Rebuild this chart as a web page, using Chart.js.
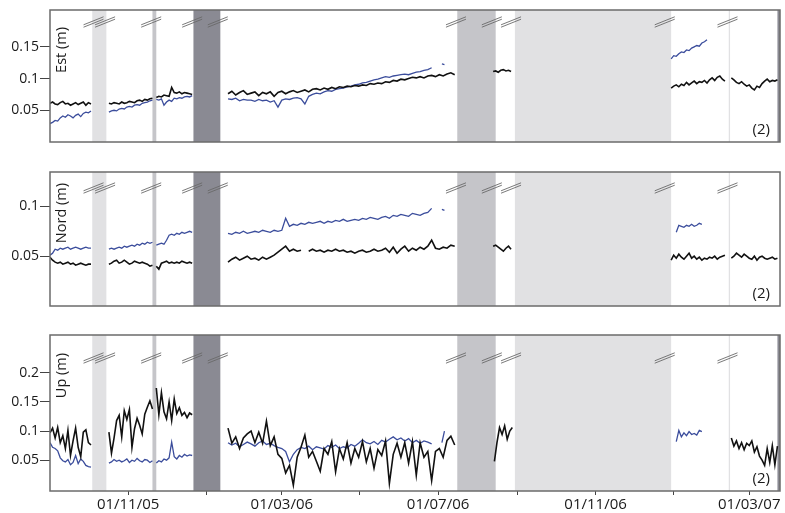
<!DOCTYPE html>
<html lang="en">
<head>
<meta charset="UTF-8" />
<title>Est / Nord / Up time series</title>
<script src="https://cdn.jsdelivr.net/npm/chart.js"></script>
<style>
  html, body { margin: 0; padding: 0; background: #fff; }
  #wrap { position: relative; width: 785px; height: 513px; }
  .panel { position: absolute; left: 0; top: 0; width: 785px; height: 513px; }
</style>
</head>
<body>
<div id="wrap">
  <div class="panel"><canvas id="estChart"></canvas></div>
  <div class="panel"><canvas id="nordChart"></canvas></div>
  <div class="panel"><canvas id="upChart"></canvas></div>
</div>
<script>
// each segment: [first date, days between samples, values]
const estBlack = [
  ['2005-09-01', 2, [0.061,0.063,0.060,0.059,0.062,0.064,0.060,0.061,0.058,0.060,0.062,0.059,0.061,0.063,0.058,0.062,0.060]],
  ['2005-10-17', 2, [0.061,0.060,0.062,0.061,0.060,0.063,0.061,0.062,0.064,0.063,0.062,0.065,0.066,0.064,0.067,0.066,0.068,0.069]],
  ['2005-11-23', 2, [0.070,0.072,0.071,0.074,0.073,0.072,0.086,0.078,0.077,0.079,0.076,0.078,0.077,0.076,0.075]],
  ['2006-01-18', 3, [0.076,0.080,0.074,0.078,0.081,0.075,0.077,0.079,0.073,0.078,
                     0.076,0.079,0.072,0.078,0.080,0.076,0.079,0.081,0.078,0.080,
                     0.082,0.079,0.083,0.084,0.082,0.085,0.083,0.086,0.084,0.087,
                     0.086,0.088,0.087,0.089,0.088,0.090,0.089,0.092,0.091,0.093,
                     0.092,0.095,0.094,0.097,0.096,0.099,0.098,0.100,0.102,0.101,
                     0.103,0.101,0.104,0.105,0.103,0.106,0.104,0.107,0.109,0.106]],
  ['2006-08-13', 2, [0.111,0.112,0.110,0.113,0.114,0.112,0.113,0.111]],
  ['2006-12-30', 2, [0.085,0.088,0.090,0.087,0.091,0.089,0.094,0.090,0.093,0.096,0.092,0.095,0.094,0.097,0.093,0.098,0.101,0.097,0.102,0.104,0.099,0.096]],
  ['2007-02-15', 2, [0.101,0.098,0.094,0.092,0.095,0.091,0.088,0.090,0.085,0.082,0.088,0.086,0.092,0.096,0.099,0.095,0.097,0.096,0.098]]
];
const estBlue = [
  ['2005-09-01', 2, [0.029,0.031,0.034,0.033,0.038,0.041,0.039,0.043,0.041,0.038,0.042,0.044,0.040,0.045,0.047,0.046,0.049]],
  ['2005-10-17', 2, [0.047,0.049,0.050,0.049,0.052,0.053,0.052,0.055,0.056,0.055,0.058,0.059,0.058,0.061,0.062,0.063,0.065,0.066]],
  ['2005-11-23', 2, [0.067,0.066,0.068,0.058,0.063,0.066,0.064,0.069,0.068,0.070,0.069,0.071,0.072,0.071,0.073]],
  ['2006-01-18', 3, [0.068,0.067,0.069,0.065,0.067,0.066,0.066,0.064,0.067,0.065,
                     0.066,0.063,0.065,0.055,0.066,0.068,0.067,0.069,0.070,0.068,
                     0.060,0.072,0.075,0.077,0.076,0.079,0.081,0.080,0.083,0.084,
                     0.085,0.087,0.088,0.090,0.091,0.093,0.094,0.096,0.098,0.099,
                     0.101,0.103,0.102,0.104,0.105,0.106,0.107,0.106,0.108,0.110,
                     0.111,0.113,0.114,0.117]],
  ['2006-07-04', 2, [0.123,0.122]],
  ['2006-12-30', 2, [0.131,0.136,0.135,0.139,0.142,0.141,0.145,0.144,0.148,0.150,0.152,0.151,0.156,0.158,0.161]]
];

const nordBlack = [
  ['2005-09-01', 2, [0.049,0.046,0.044,0.043,0.044,0.042,0.043,0.044,0.042,0.043,0.041,0.042,0.043,0.042,0.041,0.042,0.042]],
  ['2005-10-17', 2, [0.042,0.043,0.045,0.046,0.043,0.044,0.046,0.044,0.042,0.043,0.045,0.044,0.043,0.044,0.043,0.042,0.040,0.041]],
  ['2005-11-23', 2, [0.040,0.037,0.043,0.044,0.045,0.043,0.044,0.043,0.044,0.043,0.045,0.044,0.043,0.044,0.043]],
  ['2006-01-18', 3, [0.044,0.047,0.049,0.046,0.048,0.050,0.047,0.048,0.046,0.049,
                     0.047,0.049,0.051,0.054,0.057,0.060,0.055,0.057,0.055,0.056,
                     null, 0.055,0.057,0.055,0.056,0.054,0.056,0.055,0.057,0.055,
                     0.056,0.054,0.055,0.053,0.055,0.056,0.054,0.055,0.057,0.055,
                     0.056,0.058,0.054,0.059,0.053,0.057,0.060,0.055,0.058,0.056,
                     0.059,0.057,0.060,0.066,0.058,0.057,0.059,0.058,0.061,0.060]],
  ['2006-08-13', 2, [0.060,0.061,0.059,0.057,0.055,0.058,0.060,0.057]],
  ['2006-12-30', 2, [0.046,0.051,0.048,0.052,0.049,0.047,0.050,0.053,0.048,0.050,0.047,0.049,0.046,0.048,0.047,0.049,0.048,0.050,0.047,0.049,0.050,0.051]],
  ['2007-02-15', 2, [0.048,0.050,0.053,0.051,0.049,0.052,0.050,0.048,0.047,0.050,0.046,0.049,0.050,0.048,0.047,0.048,0.049,0.047,0.048]]
];
const nordBlue = [
  ['2005-09-01', 2, [0.051,0.053,0.057,0.056,0.058,0.057,0.058,0.059,0.057,0.058,0.059,0.058,0.057,0.058,0.059,0.058,0.058]],
  ['2005-10-17', 2, [0.057,0.058,0.057,0.058,0.059,0.058,0.060,0.059,0.060,0.061,0.060,0.062,0.061,0.063,0.062,0.064,0.063,0.064]],
  ['2005-11-23', 2, [0.061,0.062,0.063,0.062,0.066,0.071,0.072,0.071,0.073,0.072,0.074,0.073,0.074,0.075,0.074]],
  ['2006-01-18', 3, [0.073,0.072,0.074,0.073,0.075,0.073,0.074,0.075,0.074,0.076,
                     0.075,0.074,0.076,0.075,0.076,0.088,0.080,0.082,0.081,0.083,
                     0.082,0.084,0.083,0.084,0.085,0.083,0.085,0.084,0.086,0.085,
                     0.087,0.085,0.086,0.087,0.086,0.088,0.087,0.089,0.088,0.087,
                     0.089,0.090,0.088,0.091,0.090,0.092,0.091,0.090,0.093,0.092,
                     0.091,0.093,0.094,0.098]],
  ['2006-07-04', 2, [0.097,0.096]],
  ['2007-01-03', 2, [0.074,0.081,0.080,0.079,0.081,0.080,0.082,0.080,0.081,0.083,0.082]]
];

const upBlack = [
  ['2005-09-01', 2, [0.097,0.105,0.088,0.106,0.080,0.092,0.070,0.101,0.058,0.083,0.105,0.072,0.056,0.098,0.102,0.080,0.076]],
  ['2005-10-17', 2, [0.098,0.062,0.088,0.118,0.127,0.090,0.135,0.120,0.137,0.072,0.104,0.122,0.110,0.095,0.129,0.141,0.152,0.138]],
  ['2005-11-23', 2, [0.174,0.128,0.166,0.133,0.121,0.150,0.118,0.155,0.130,0.140,0.127,0.132,0.123,0.131,0.128]],
  ['2006-01-18', 3, [0.105,0.079,0.090,0.070,0.088,0.095,0.100,0.080,0.098,0.079,
                     0.117,0.075,0.090,0.060,0.053,0.028,0.041,0.007,0.055,0.072,
                     0.093,0.055,0.065,0.048,0.031,0.070,0.060,0.082,0.030,0.070,
                     0.052,0.080,0.045,0.070,0.055,0.082,0.047,0.070,0.036,0.068,
                     0.058,0.083,0.010,0.060,0.079,0.055,0.080,0.045,0.082,0.024,
                     0.080,0.055,0.065,0.015,0.065,0.070,0.055,0.084,0.091,0.076]],
  ['2006-08-14', 2, [0.048,0.080,0.106,0.094,0.109,0.086,0.100,0.106]],
  ['2007-02-15', 2, [0.088,0.074,0.083,0.070,0.080,0.068,0.079,0.075,0.083,0.064,0.073,0.057,0.050,0.041,0.070,0.046,0.075,0.042,0.074]]
];
const upBlue = [
  ['2005-09-01', 2, [0.080,0.072,0.070,0.066,0.054,0.049,0.047,0.051,0.042,0.046,0.058,0.044,0.052,0.048,0.041,0.039,0.038]],
  ['2005-10-17', 2, [0.045,0.047,0.051,0.048,0.050,0.047,0.049,0.052,0.046,0.050,0.048,0.053,0.049,0.047,0.051,0.050,0.046,0.049]],
  ['2005-11-23', 2, [0.045,0.049,0.047,0.052,0.050,0.054,0.081,0.056,0.052,0.058,0.055,0.060,0.057,0.059,0.058]],
  ['2006-01-18', 3, [0.080,0.076,0.079,0.073,0.077,0.081,0.078,0.074,0.080,0.083,
                     0.077,0.079,0.075,0.072,0.070,0.065,0.047,0.060,0.068,0.072,
                     0.070,0.074,0.068,0.073,0.071,0.069,0.075,0.072,0.076,0.070,
                     0.073,0.071,0.077,0.074,0.079,0.085,0.080,0.078,0.082,0.077,
                     0.084,0.081,0.086,0.090,0.085,0.088,0.083,0.087,0.080,0.084,
                     0.079,0.083,0.081,0.078]],
  ['2006-07-04', 2, [0.080,0.100]],
  ['2007-01-03', 2, [0.082,0.101,0.090,0.097,0.092,0.099,0.094,0.096,0.093,0.101,0.099]]
];

const estTicks = [0.05, 0.1, 0.15];
const nordTicks = [0.05, 0.1];
const upTicks = [0.05, 0.1, 0.15, 0.2];

const xTickDates = ['2005-11-01','2006-01-01','2006-03-01','2006-05-01','2006-07-01','2006-09-01','2006-11-01','2007-01-01','2007-03-01'];
const xTickLabels = ['01/11/05','','01/03/06','','01/07/06','','01/11/06','','01/03/07'];

// shaded periods [from, to, shade]
const bands = [
  ['2005-10-04', '2005-10-15', 'light'],
  ['2005-11-20', '2005-11-23', 'mid'],
  ['2005-12-22', '2006-01-12', 'dark'],
  ['2006-07-16', '2006-08-15', 'mid'],
  ['2006-08-30', '2006-12-30', 'light'],
  ['2007-02-13', '2007-02-14', 'light']
];
const edgeBand = ['2007-03-23', '2007-03-26', 'dark'];

// "//" break marks
const breakDates = ['2005-10-05','2005-10-14','2005-11-19','2005-12-21','2006-01-10','2006-07-15','2006-08-12','2006-08-27','2006-12-25','2007-02-12'];

const BAND_COLORS = { light: '#e1e1e3', mid: '#c5c5c9', dark: '#8a8a93' };
const FONT = '"Open Sans", "Noto Sans", sans-serif';

const day = s => Date.UTC(+s.slice(0, 4), +s.slice(5, 7) - 1, +s.slice(8, 10)) / 86400000;

function toPoints(segs) {
  const pts = [];
  segs.forEach(([start, step, vals]) => {
    const d0 = day(start);
    vals.forEach((v, i) => pts.push({ x: d0 + i * step, y: v }));
    pts.push({ x: d0 + vals.length * step, y: null });
  });
  return pts;
}

function decor(cfg) {
  return {
    id: 'decor',
    beforeDatasetsDraw(chart) {
      const { ctx, chartArea: a, scales: { x } } = chart;
      ctx.save();
      ctx.beginPath();
      ctx.rect(a.left, a.top, a.width, a.height);
      ctx.clip();
      const list = cfg.edge ? bands.concat([edgeBand]) : bands;
      list.forEach(([s, e, kind]) => {
        const x0 = x.getPixelForValue(day(s));
        const x1 = x.getPixelForValue(day(e));
        ctx.fillStyle = BAND_COLORS[kind];
        ctx.fillRect(x0, a.top, x1 - x0, a.height);
      });
      ctx.restore();
    },
    afterDraw(chart) {
      const { ctx, chartArea: a, scales: { x } } = chart;
      ctx.save();
      ctx.strokeStyle = '#6a6a6a';
      ctx.lineWidth = 0.9;
      breakDates.forEach(d => {
        const cx = x.getPixelForValue(day(d));
        const cy = a.top + cfg.markTop;
        [-1.2, 1.2].forEach(dy => {
          ctx.beginPath();
          ctx.moveTo(cx - 10, cy + 4 + dy);
          ctx.lineTo(cx + 10, cy - 4 + dy);
          ctx.stroke();
        });
      });

      ctx.fillStyle = '#1a1a1a';
      ctx.font = '14.5px ' + FONT;
      ctx.save();
      ctx.translate(a.left + 12, a.top + cfg.labelTop);
      ctx.rotate(-Math.PI / 2);
      ctx.textAlign = 'right';
      ctx.textBaseline = 'middle';
      ctx.fillText(cfg.label, 0, 0);
      ctx.restore();

      ctx.font = '15px ' + FONT;
      ctx.textAlign = 'right';
      ctx.textBaseline = 'middle';
      ctx.fillText('(2)', a.right - 10, a.bottom - 12);

      ctx.strokeStyle = '#6b6b6b';
      ctx.lineWidth = 1.5;
      ctx.strokeRect(a.left, a.top, a.width, a.height);
      ctx.restore();
    }
  };
}

function makeChart(id, cfg) {
  return new Chart(document.getElementById(id), {
    type: 'line',
    data: {
      datasets: [
        { data: toPoints(cfg.black), borderColor: '#111', borderWidth: 1.6 },
        { data: toPoints(cfg.blue), borderColor: '#3b4d9c', borderWidth: 1.3 }
      ]
    },
    options: {
      responsive: true,
      maintainAspectRatio: false,
      animation: false,
      events: [],
      spanGaps: false,
      elements: { point: { radius: 0 }, line: { tension: 0 } },
      layout: { padding: { top: cfg.top, bottom: cfg.bottom, left: 0, right: 5 } },
      plugins: { legend: { display: false }, tooltip: { enabled: false } },
      scales: {
        x: {
          type: 'linear',
          min: day('2005-09-01'),
          max: day('2007-03-25'),
          display: cfg.xAxis,
          afterBuildTicks: s => { s.ticks = xTickDates.map(d => ({ value: day(d) })); },
          afterFit: s => { s.height = 22; },
          grid: { drawOnChartArea: false, tickLength: 4, tickColor: '#444' },
          border: { display: false },
          ticks: {
            autoSkip: false, maxRotation: 0, padding: 1, color: '#1a1a1a',
            font: { family: FONT, size: 15 },
            callback: (v, i) => xTickLabels[i]
          }
        },
        y: {
          min: cfg.min,
          max: cfg.max,
          afterBuildTicks: s => { s.ticks = cfg.ticks.map(v => ({ value: v })); },
          afterFit: s => { s.width = 50; },
          grid: { drawOnChartArea: false, tickLength: 10, tickColor: '#444' },
          border: { display: false },
          ticks: {
            padding: 1, color: '#1a1a1a',
            font: { family: FONT, size: 14 },
            callback: v => String(v)
          }
        }
      }
    },
    plugins: [decor(cfg)]
  });
}

makeChart('estChart', {
  black: estBlack, blue: estBlue, ticks: estTicks, min: 0, max: 0.208,
  top: 10, bottom: 349, xAxis: false, edge: true,
  label: 'Est (m)', labelTop: 17, markTop: 12
});
makeChart('nordChart', {
  black: nordBlack, blue: nordBlue, ticks: nordTicks, min: 0, max: 0.1345,
  top: 172, bottom: 185, xAxis: false, edge: false,
  label: 'Nord (m)', labelTop: 11, markTop: 16
});
makeChart('upChart', {
  black: upBlack, blue: upBlue, ticks: upTicks, min: -0.003, max: 0.265,
  top: 335, bottom: 0, xAxis: true, edge: true,
  label: 'Up (m)', labelTop: 18, markTop: 23
});
</script>
</body>
</html>
